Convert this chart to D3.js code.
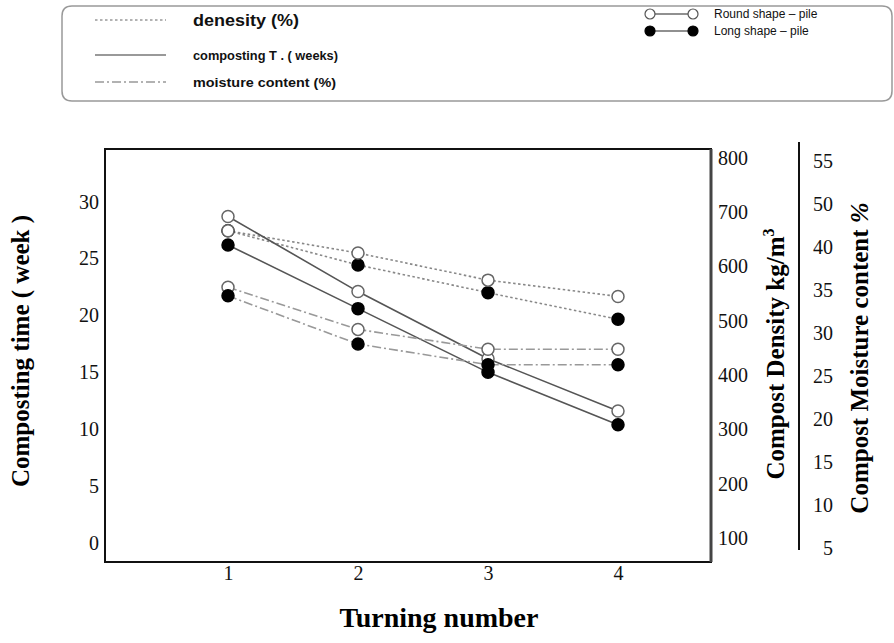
<!DOCTYPE html>
<html><head><meta charset="utf-8">
<script src="https://cdn.jsdelivr.net/npm/d3@7"></script>
<style>body{margin:0;background:#fff}svg{display:block}</style>
</head><body>
<svg id="c" width="894" height="643"></svg>
<script>
// ---- data ----
const turning = [1, 2, 3, 4];
const compRound = [28.7, 22.1, 16.2, 11.6];
const compLong = [26.2, 20.6, 15.0, 10.4];
const densRound = [666, 625, 575, 545];
const densLong = [666, 603, 552, 503];
const moistRound = [35.3, 30.4, 28.1, 28.1];
const moistLong = [34.3, 28.7, 26.3, 26.3];
const timeTicks = [0, 5, 10, 15, 20, 25, 30];
const densTicks = [100, 200, 300, 400, 500, 600, 700, 800];
const moistTicks = [5, 10, 15, 20, 25, 30, 35, 40, 50, 55];
const legendLines = ["denesity (%)", "composting T . ( weeks)", "moisture content (%)"];
const legendShapes = ["Round shape \u2013 pile", "Long shape \u2013 pile"];

const svg = d3.select("#c");
const L = 105, R = 711, T = 149, B = 562;

const x = d3.scaleLinear().domain([1, 4]).range([228, 618]);
const yT = d3.scaleLinear().domain([0, 30]).range([543, 201.7]);
const yD = d3.scaleLinear().domain([100, 800]).range([538, 158]);
const yM = d3.scaleLinear().domain(moistTicks).range(moistTicks.map((d, i) => 548 - i * 43.03));

// frame
svg.append("rect").attr("x", L).attr("y", T).attr("width", R - L).attr("height", B - T)
  .attr("fill", "#fff").attr("stroke", "#111").attr("stroke-width", 2);
svg.append("line").attr("x1", R).attr("x2", R).attr("y1", T).attr("y2", B)
  .attr("stroke", "#444").attr("stroke-width", 3);

const serif = "'Liberation Serif','Times New Roman',serif";
const sans = "'Liberation Sans',Arial,sans-serif";

function styleAxis(g) {
  g.select(".domain").remove();
  g.selectAll("text").attr("font-family", serif).attr("font-size", 20).attr("fill", "#111");
}

svg.append("g").attr("transform", `translate(${L},0)`)
  .call(d3.axisLeft(yT).tickValues(timeTicks).tickSize(0).tickPadding(6)).call(styleAxis);
svg.append("g").attr("transform", `translate(${R},0)`)
  .call(d3.axisRight(yD).tickValues(densTicks).tickSize(0).tickPadding(7)).call(styleAxis);
svg.append("g").attr("transform", `translate(835,0)`)
  .call(d3.axisLeft(yM).tickValues(moistTicks).tickFormat(d3.format("d")).tickSize(0).tickPadding(2)).call(styleAxis);
svg.append("g").attr("transform", `translate(0,${B})`)
  .call(d3.axisBottom(x).tickValues(turning).tickFormat(d3.format("d")).tickSize(0).tickPadding(4)).call(styleAxis);

// separator line of moisture axis
svg.append("line").attr("x1", 799).attr("x2", 799).attr("y1", 142).attr("y2", 550)
  .attr("stroke", "#111").attr("stroke-width", 2);

// titles
svg.append("text").attr("transform", "translate(29,351) rotate(-90)").attr("text-anchor", "middle")
  .attr("font-family", serif).attr("font-weight", "bold").attr("font-size", 25).text("Composting time ( week )");
const dt = svg.append("text").attr("transform", "translate(784,354) rotate(-90)").attr("text-anchor", "middle")
  .attr("font-family", serif).attr("font-weight", "bold").attr("font-size", 25);
dt.append("tspan").text("Compost Density kg/m");
dt.append("tspan").attr("dy", -10).attr("font-size", 16).text("3");
const mt = svg.append("text").attr("transform", "translate(868,358) rotate(-90)").attr("text-anchor", "middle")
  .attr("font-family", serif).attr("font-weight", "bold").attr("font-size", 25);
mt.append("tspan").text("Compost Moisture content ");
mt.append("tspan").attr("font-style", "italic").text("%");
svg.append("text").attr("x", 439).attr("y", 627).attr("text-anchor", "middle")
  .attr("font-family", serif).attr("font-weight", "bold").attr("font-size", 28).text("Turning number");

// series (marker draw order matters for overlaps)
const series = [
  { v: densLong, y: yD, dash: "2.5,2.5", col: "#888", open: false },
  { v: densRound, y: yD, dash: "2.5,2.5", col: "#888", open: true },
  { v: compRound, y: yT, dash: null, col: "#555", open: true },
  { v: compLong, y: yT, dash: null, col: "#555", open: false },
  { v: moistRound, y: yM, dash: "9,3,2,3", col: "#999", open: true },
  { v: moistLong, y: yM, dash: "9,3,2,3", col: "#999", open: false }
];
series.forEach(s => {
  const line = d3.line().x((d, i) => x(turning[i])).y(d => s.y(d));
  svg.append("path").datum(s.v).attr("d", line).attr("fill", "none")
    .attr("stroke", s.col).attr("stroke-width", 1.6).attr("stroke-dasharray", s.dash);
});
series.forEach(s => {
  svg.append("g").selectAll("circle").data(s.v).join("circle")
    .attr("cx", (d, i) => x(turning[i])).attr("cy", d => s.y(d)).attr("r", 6)
    .attr("fill", s.open ? "#fff" : "#000").attr("stroke", s.open ? "#666" : "#000").attr("stroke-width", 1.5);
});

// legend box
svg.append("path").attr("d", "M72,6 H882 Q892,6 892,16 V91 Q892,101 882,101 H72 Q62,101 62,91 V16 Q62,6 72,6 Z")
  .attr("fill", "none").attr("stroke", "#999").attr("stroke-width", 1.5);
const lg = [
  { y: 20, dash: "2.5,2.5", col: "#999", fs: 17, w: 106 },
  { y: 55, dash: null, col: "#777", fs: 13, w: 145 },
  { y: 82, dash: "9,3,2,3", col: "#999", fs: 13, w: 143 }
];
lg.forEach((d, i) => {
  svg.append("line").attr("x1", 95).attr("x2", 166).attr("y1", d.y).attr("y2", d.y)
    .attr("stroke", d.col).attr("stroke-width", 1.4).attr("stroke-dasharray", d.dash);
  svg.append("text").attr("x", 193).attr("y", d.y).attr("dy", "0.35em").attr("font-family", sans)
    .attr("font-weight", "bold").attr("font-size", d.fs).attr("fill", "#111")
    .attr("textLength", d.w).attr("lengthAdjust", "spacingAndGlyphs").text(legendLines[i]);
});
legendShapes.forEach((t, i) => {
  const yy = 14 + i * 17;
  svg.append("line").attr("x1", 650).attr("x2", 693).attr("y1", yy).attr("y2", yy).attr("stroke", "#222").attr("stroke-width", 1.2);
  [650, 693].forEach(cx => svg.append("circle").attr("cx", cx).attr("cy", yy).attr("r", 5)
    .attr("fill", i ? "#000" : "#fff").attr("stroke", i ? "#000" : "#555").attr("stroke-width", 1.2));
  svg.append("text").attr("x", 714).attr("y", yy).attr("dy", "0.35em").attr("font-family", sans)
    .attr("font-size", 12).attr("fill", "#111").text(t);
});
</script>
</body></html>
